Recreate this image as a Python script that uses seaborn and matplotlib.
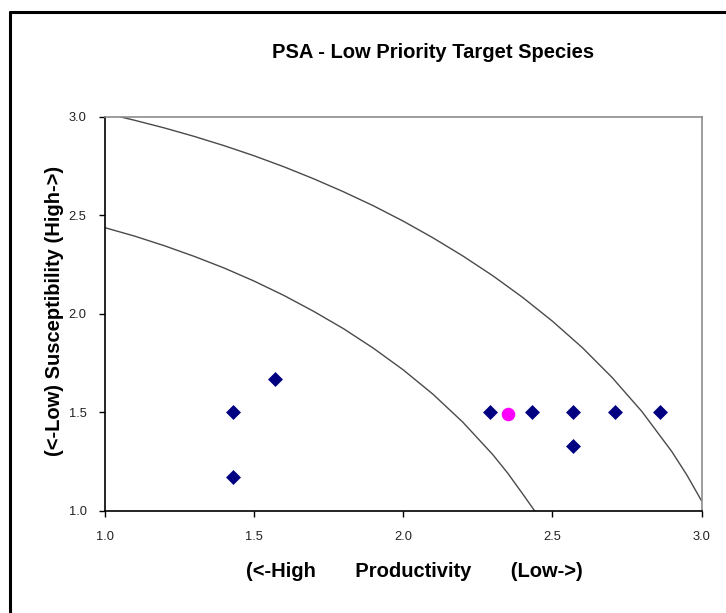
import matplotlib
matplotlib.use("Agg")
import matplotlib.pyplot as plt
import pandas as pd
import seaborn as sns
from matplotlib.lines import Line2D

# --- species scores (productivity, susceptibility)
prod_species = [1.43, 1.43, 1.57, 2.29, 2.43, 2.57, 2.57, 2.71, 2.86]
susc_species = [1.50, 1.17, 1.67, 1.50, 1.50, 1.50, 1.33, 1.50, 1.50]

# highlighted species (magenta dot)
prod_highlight = [2.35]
susc_highlight = [1.49]

# --- risk threshold curves
outer_x = [1.05, 1.1, 1.2, 1.3, 1.4, 1.5, 1.6, 1.7, 1.8, 1.9, 2.0, 2.1,
           2.2, 2.3, 2.4, 2.5, 2.6, 2.7, 2.8, 2.9, 2.95, 3.0]
outer_y = [3.0, 2.982, 2.943, 2.900, 2.853, 2.802, 2.746, 2.685, 2.619, 2.548,
           2.470, 2.385, 2.293, 2.193, 2.083, 1.962, 1.828, 1.676, 1.503,
           1.300, 1.182, 1.049]
inner_x = [1.0, 1.1, 1.2, 1.3, 1.4, 1.5, 1.6, 1.7, 1.8, 1.9, 2.0, 2.1,
           2.2, 2.3, 2.35, 2.4, 2.44]
inner_y = [2.437, 2.394, 2.345, 2.291, 2.232, 2.166, 2.093, 2.012, 1.924,
           1.825, 1.715, 1.591, 1.449, 1.285, 1.191, 1.086, 1.0]

ticks = [1.0, 1.5, 2.0, 2.5, 3.0]
tick_labels = ["1.0", "1.5", "2.0", "2.5", "3.0"]

sns.set_theme(style="white")
plt.rcParams["font.family"] = ["Liberation Sans", "DejaVu Sans"]

fig = plt.figure(figsize=(7.26, 6.13), dpi=100)
ax = fig.add_axes([0.1442, 0.1669, 0.8223, 0.6427])

curves = pd.concat([
    pd.DataFrame({"x": outer_x, "y": outer_y, "curve": "outer"}),
    pd.DataFrame({"x": inner_x, "y": inner_y, "curve": "inner"}),
])
sns.lineplot(data=curves, x="x", y="y", units="curve", estimator=None,
             sort=False, color="#4a4a4a", linewidth=1.0, ax=ax)

sns.scatterplot(x=prod_species, y=susc_species, marker="D", s=58,
                color="#000080", edgecolor="#000080", linewidth=0, ax=ax, zorder=3)
sns.scatterplot(x=prod_highlight, y=susc_highlight, marker="o", s=95,
                color="#ff00ff", edgecolor="#ff00ff", linewidth=0, ax=ax, zorder=3)

ax.set_xlim(1.0, 3.0)
ax.set_ylim(1.0, 3.0)
ax.set_xticks(ticks)
ax.set_xticklabels(tick_labels)
ax.set_yticks(ticks)
ax.set_yticklabels(tick_labels)
ax.tick_params(axis="both", direction="out", length=4, width=1, color="black",
               labelsize=9.3, labelcolor="#222222", pad=9, bottom=True, left=True)
ax.tick_params(axis="x", pad=10.5)

for side in ["left", "bottom"]:
    ax.spines[side].set_color("black")
    ax.spines[side].set_linewidth(1.2)
for side in ["top", "right"]:
    ax.spines[side].set_color("#8c8c8c")
    ax.spines[side].set_linewidth(1.2)

ax.set_xlabel("(<-High       Productivity       (Low->)", fontsize=14.5,
              fontweight="bold", color="black")
ax.xaxis.set_label_coords(0.519, -0.131)
ax.set_ylabel("(<-Low) Susceptibility (High->)", fontsize=14.5,
              fontweight="bold", color="black")
ax.yaxis.set_label_coords(-0.068, 0.507)

fig.text(0.596, 0.915, "PSA - Low Priority Target Species", ha="center",
         va="center", fontsize=14.5, fontweight="bold", color="black")

# outer chart frame (left and top edges visible)
fig.add_artist(Line2D([9.5 / 726, 9.5 / 726], [0, 1 - 12 / 613],
                      transform=fig.transFigure, color="black", linewidth=2.2))
fig.add_artist(Line2D([9.5 / 726, 1], [1 - 12 / 613, 1 - 12 / 613],
                      transform=fig.transFigure, color="black", linewidth=2.2))

fig.savefig("out.png", dpi=100)
